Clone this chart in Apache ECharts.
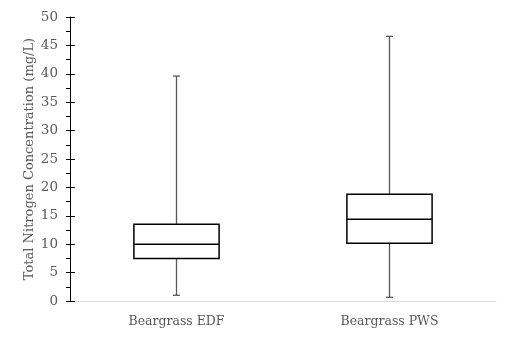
<!DOCTYPE html>
<html><head><meta charset="utf-8">
<script src="https://cdn.jsdelivr.net/npm/echarts@6/dist/echarts.min.js"></script>
<style>html,body{margin:0;padding:0;background:#fff}#c{width:513px;height:340px}</style>
</head><body><div id="c"></div>
<script>
const categories = ['Beargrass EDF', 'Beargrass PWS'];
const minVals = [1.0, 0.65];
const q1Vals = [7.5, 10.15];
const medianVals = [10.0, 14.4];
const q3Vals = [13.5, 18.8];
const maxVals = [39.6, 46.6];
const yTicks = [0, 5, 10, 15, 20, 25, 30, 35, 40, 45, 50];

const data = categories.map((c, i) => [i, minVals[i], q1Vals[i], medianVals[i], q3Vals[i], maxVals[i]]);
const font = 'DejaVu Serif';

const chart = echarts.init(document.getElementById('c'));
chart.setOption({
  animation: false,
  grid: { left: 70, right: 17, top: 17, bottom: 39 },
  xAxis: {
    type: 'category', data: categories,
    axisLine: { lineStyle: { color: '#d9d9d9', width: 1 } },
    axisTick: { show: false },
    axisLabel: { color: '#595959', fontFamily: font, fontSize: 12.5, margin: 14 }
  },
  yAxis: [{
    type: 'value', min: yTicks[0], max: yTicks[yTicks.length - 1], interval: 5,
    name: 'Total Nitrogen Concentration (mg/L)', nameLocation: 'middle', nameGap: 34,
    nameMoveOverlap: false,
    nameTextStyle: { color: '#595959', fontFamily: font, fontSize: 13 },
    axisLine: { show: true, lineStyle: { color: '#000', width: 1 } },
    axisTick: { show: true, length: 4, lineStyle: { color: '#000' } },
    minorTick: { show: true, splitNumber: 2, length: 4, lineStyle: { color: '#000' } },
    splitLine: { show: false },
    axisLabel: { color: '#595959', fontFamily: font, fontSize: 13.5, margin: 12 }
  }, {
    type: 'value', min: yTicks[0], max: yTicks[yTicks.length - 1], interval: 5, position: 'left',
    axisLine: { show: false },
    axisTick: { show: true, inside: true, length: 5, lineStyle: { color: '#000' } },
    axisLabel: { show: false }, splitLine: { show: false }
  }],
  series: [{
    type: 'custom',
    data: data,
    renderItem: function (params, api) {
      const x = api.value(0);
      const pMin = api.coord([x, api.value(1)]);
      const pQ1 = api.coord([x, api.value(2)]);
      const pMed = api.coord([x, api.value(3)]);
      const pQ3 = api.coord([x, api.value(4)]);
      const pMax = api.coord([x, api.value(5)]);
      const band = api.size([1, 0])[0];
      const hw = band * 0.2;
      const cap = 3.5;
      const cx = pMed[0];
      const wStyle = { stroke: '#595959', lineWidth: 1.3 };
      const bStyle = { stroke: '#000', lineWidth: 1.5, fill: '#fff' };
      return {
        type: 'group', children: [
          { type: 'line', shape: { x1: cx, y1: pMax[1], x2: cx, y2: pQ3[1] }, style: wStyle },
          { type: 'line', shape: { x1: cx, y1: pQ1[1], x2: cx, y2: pMin[1] }, style: wStyle },
          { type: 'line', shape: { x1: cx - cap, y1: pMax[1], x2: cx + cap, y2: pMax[1] }, style: wStyle },
          { type: 'line', shape: { x1: cx - cap, y1: pMin[1], x2: cx + cap, y2: pMin[1] }, style: wStyle },
          { type: 'rect', shape: { x: cx - hw, y: pQ3[1], width: hw * 2, height: pQ1[1] - pQ3[1] }, style: bStyle },
          { type: 'line', shape: { x1: cx - hw, y1: pMed[1], x2: cx + hw, y2: pMed[1] }, style: { stroke: '#000', lineWidth: 1.5 } }
        ]
      };
    }
  }]
});
</script></body></html>
